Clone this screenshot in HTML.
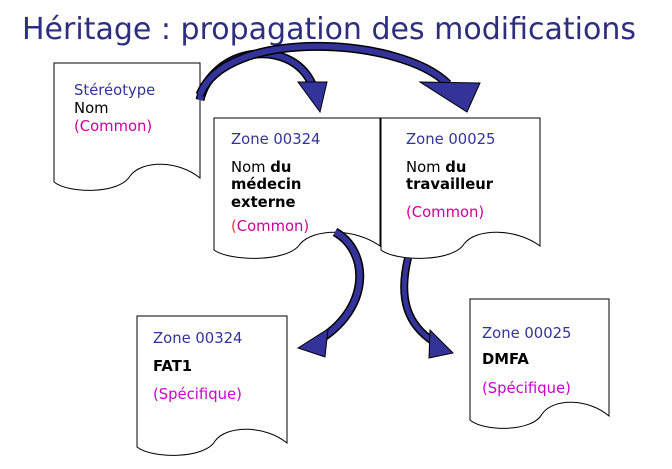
<!DOCTYPE html>
<html><head><meta charset="utf-8"><style>
html,body{margin:0;padding:0;background:#fff;}
svg{display:block;}
text{font-family:"DejaVu Sans","Liberation Sans",sans-serif;font-size:14.8px;}
.z{fill:#333399}.k{fill:#000}.c{fill:#cc0099}.s{fill:#cc00cc}
.d{fill:#fff;stroke:#000;stroke-width:1}
</style></head><body>
<svg width="672" height="469" viewBox="0 0 672 469" xmlns="http://www.w3.org/2000/svg">
<text x="22" y="39" style="font-size:30px" fill="#2e2e80" textLength="614" lengthAdjust="spacingAndGlyphs">Héritage : propagation des modifications</text>

<path class="d" d="M54 63 H200 V178 C178 160 142 160 130 176 C120 194 69 194 54 182 Z"/>
<path class="d" d="M214 118 H380 V246 C355 228 314 228 300 244 C289 262 231 262 214 250 Z"/>
<path class="d" d="M381 118 H540 V246 C516 228 476 228 464 244 C453 262 397 262 381 250 Z"/>
<path class="d" d="M137 316 H287 V443 C265 425 227 425 215 441 C205 459 152 459 137 447 Z"/>
<path class="d" d="M470 299 H609 V416 C588 398 553 398 542 414 C533 432 484 432 470 420 Z"/>

<g fill="none" stroke-linecap="butt">
<path d="M200 100 C212 48 290 36 312 84" stroke="#000" stroke-width="9"/>
<path d="M200 100 C212 48 290 36 312 84" stroke="#333399" stroke-width="6"/>
<path d="M200 95 C225 28 400 36 448 84" stroke="#000" stroke-width="9"/>
<path d="M200 95 C225 28 400 36 448 84" stroke="#333399" stroke-width="6"/>
<path d="M335 232 C368 250 372 305 322 338" stroke="#000" stroke-width="9"/>
<path d="M335 232 C368 250 372 305 322 338" stroke="#333399" stroke-width="6"/>
<path d="M408 258 C398 300 408 325 434 342" stroke="#000" stroke-width="8"/>
<path d="M408 258 C398 300 408 325 434 342" stroke="#333399" stroke-width="5"/>
</g>
<g fill="#333399" stroke="#000" stroke-width="1">
<polygon points="298,82 327,82 320,112"/>
<polygon points="420,82 480,83 467,112"/>
<polygon points="298,348 328,329 325,357"/>
<polygon points="453,353 430,330 429,358"/>
</g>

<text x="74" y="95" class="z">Stéréotype</text>
<text x="74" y="113" class="k">Nom</text>
<text x="74" y="131" class="c">(Common)</text>

<text x="231" y="144" class="z">Zone 00324</text>
<text x="231" y="172" class="k">Nom <tspan font-weight="bold">du</tspan></text>
<text x="231" y="189" class="k" font-weight="bold">médecin</text>
<text x="231" y="207" class="k" font-weight="bold">externe</text>
<text x="231" y="231" class="c"><tspan fill="#ff3333">(</tspan>Common)</text>

<text x="406" y="144" class="z">Zone 00025</text>
<text x="406" y="172" class="k">Nom <tspan font-weight="bold">du</tspan></text>
<text x="406" y="189" class="k" font-weight="bold">travailleur</text>
<text x="406" y="217" class="c">(Common)</text>

<text x="153" y="343" class="z">Zone 00324</text>
<text x="153" y="371" class="k" font-weight="bold">FAT1</text>
<text x="153" y="399" class="s">(Spécifique)</text>

<text x="482" y="338" class="z">Zone 00025</text>
<text x="482" y="364" class="k" font-weight="bold">DMFA</text>
<text x="482" y="393" class="s">(Spécifique)</text>
</svg>
</body></html>
